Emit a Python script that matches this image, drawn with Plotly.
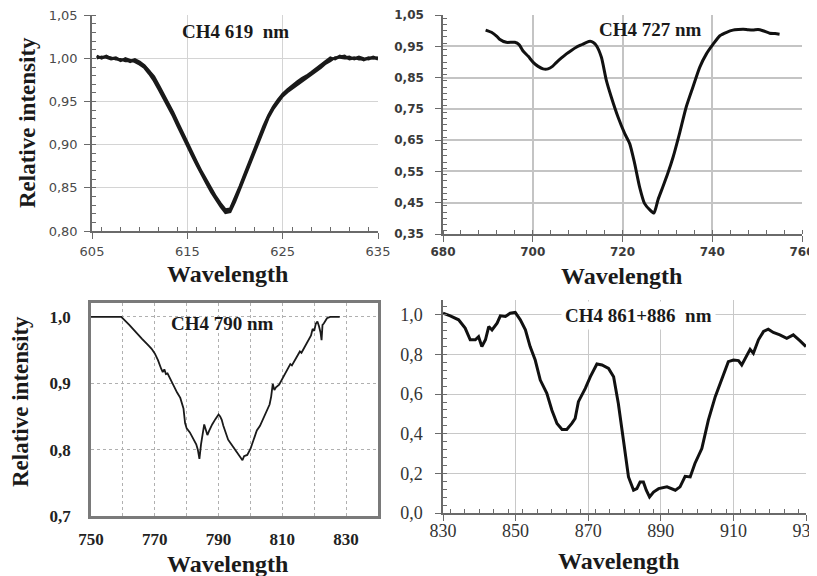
import plotly.graph_objects as go

# The page body has an 8px default margin, so the figure is drawn 8px smaller
# and every reference pixel position is shifted by that margin.
PAGE_W, PAGE_H = 817, 576
OFF = 8
W, H = PAGE_W - OFF, PAGE_H - OFF

# ---------------- data ----------------
# Panel A: CH4 619 nm (three overlapping spectra)
wl_619 = [605.5, 606, 606.5, 607, 607.5, 608, 608.5, 609, 609.5, 610, 610.5, 611, 611.5, 612, 612.5,
          613, 613.5, 614, 614.5, 615, 615.5, 616, 616.5, 617, 617.5, 618, 618.5, 619, 619.5, 620,
          620.5, 621, 621.5, 622, 622.5, 623, 623.5, 624, 624.5, 625, 625.5, 626, 626.5, 627, 627.5,
          628, 628.5, 629, 629.5, 630, 630.5, 631, 631.5, 632, 632.5, 633, 633.5, 634, 634.5, 635]
int_619_a = [1.002, 1.001, 1.003, 1.000, 1.001, 0.998, 0.999, 0.996, 0.998, 0.995, 0.991, 0.985, 0.977, 0.967, 0.957,
             0.947, 0.936, 0.924, 0.912, 0.900, 0.889, 0.878, 0.867, 0.857, 0.847, 0.838, 0.830, 0.823, 0.824, 0.836,
             0.850, 0.864, 0.878, 0.893, 0.907, 0.920, 0.933, 0.943, 0.951, 0.958, 0.963, 0.967, 0.971, 0.975, 0.978,
             0.982, 0.986, 0.991, 0.996, 0.999, 1.000, 1.003, 1.001, 1.002, 0.999, 1.001, 0.998, 1.000, 1.002, 1.000]
int_619_b = [1.000, 1.002, 1.001, 0.999, 1.000, 0.997, 1.000, 0.998, 0.996, 0.993, 0.989, 0.982, 0.974, 0.964, 0.954,
             0.944, 0.933, 0.921, 0.909, 0.898, 0.887, 0.876, 0.865, 0.855, 0.845, 0.836, 0.828, 0.821, 0.822, 0.834,
             0.848, 0.862, 0.876, 0.891, 0.905, 0.918, 0.931, 0.941, 0.949, 0.956, 0.961, 0.965, 0.968, 0.972, 0.976,
             0.980, 0.984, 0.989, 0.994, 0.997, 1.001, 1.001, 1.000, 1.000, 1.001, 0.999, 0.999, 1.001, 1.000, 1.001]
int_619_c = [1.003, 1.000, 1.002, 1.001, 0.999, 0.999, 0.997, 0.997, 0.999, 0.996, 0.992, 0.986, 0.979, 0.969, 0.959,
             0.949, 0.938, 0.926, 0.914, 0.902, 0.891, 0.880, 0.869, 0.859, 0.849, 0.840, 0.832, 0.825, 0.826, 0.838,
             0.852, 0.866, 0.880, 0.895, 0.909, 0.922, 0.934, 0.944, 0.952, 0.959, 0.964, 0.969, 0.973, 0.977, 0.980,
             0.984, 0.988, 0.993, 0.997, 1.001, 0.999, 1.002, 1.003, 0.999, 1.000, 1.002, 1.000, 0.999, 1.001, 0.999]

# Panel B: CH4 727 nm
wl_727 = [689.5, 690.8, 692.0, 692.6, 694.1, 696.0, 697.0, 697.8, 699.0, 700.1, 701.2, 702.3, 703.4, 704.4,
          705.3, 706.4, 707.5, 708.6, 709.7, 711.0, 712.0, 712.8, 713.5, 714.2, 715.3, 716.4, 717.5, 719.0,
          720.5, 721.6, 722.7, 723.8, 724.9, 726.1, 727.0, 727.9, 729.0, 730.1, 731.3, 732.7, 734.2, 735.7,
          737.2, 738.7, 740.2, 741.7, 743.2, 744.6, 745.8, 746.9, 748.0, 749.1, 750.2, 751.3, 752.8, 754.0, 755.0]
int_727 = [1.002, 0.995, 0.982, 0.973, 0.963, 0.963, 0.955, 0.936, 0.918, 0.899, 0.886, 0.878, 0.878, 0.886,
           0.899, 0.913, 0.926, 0.937, 0.947, 0.956, 0.963, 0.966, 0.962, 0.952, 0.915, 0.841, 0.788, 0.724,
           0.671, 0.639, 0.576, 0.501, 0.448, 0.427, 0.417, 0.459, 0.501, 0.544, 0.597, 0.671, 0.756, 0.820,
           0.883, 0.926, 0.957, 0.984, 0.995, 1.002, 1.004, 1.005, 1.003, 1.002, 1.004, 1.000, 0.992, 0.991, 0.989]

# Panel C: CH4 790 nm
wl_790 = [750, 759.5, 762, 764, 766, 768, 769, 770, 771, 772, 772.5, 773, 773.5, 774, 775, 776, 777, 778,
          778.5, 779, 779.5, 780, 781, 782, 783, 783.5, 784, 784.5, 785, 785.5, 786, 786.5, 787, 787.5, 788,
          789, 790, 790.5, 791, 791.5, 792, 792.5, 793, 794, 795, 796, 797, 797.5, 798, 799, 800, 801, 802,
          803, 804, 805, 806, 806.5, 807, 807.5, 808, 809, 810, 811, 812, 812.5, 813, 814, 815, 815.5, 816,
          817, 818, 819, 819.5, 820, 820.5, 821, 821.5, 822, 822.3, 822.6, 823, 824, 825, 828]
int_790 = [1.000, 1.000, 0.988, 0.977, 0.967, 0.957, 0.952, 0.945, 0.935, 0.922, 0.917, 0.921, 0.914, 0.915,
           0.905, 0.895, 0.886, 0.878, 0.870, 0.862, 0.840, 0.832, 0.826, 0.818, 0.808, 0.800, 0.786, 0.808,
           0.826, 0.838, 0.830, 0.822, 0.828, 0.834, 0.838, 0.846, 0.853, 0.850, 0.845, 0.836, 0.828, 0.822,
           0.815, 0.808, 0.801, 0.795, 0.789, 0.784, 0.790, 0.792, 0.801, 0.816, 0.829, 0.836, 0.847, 0.857,
           0.868, 0.880, 0.899, 0.890, 0.894, 0.898, 0.907, 0.915, 0.924, 0.929, 0.927, 0.935, 0.943, 0.948,
           0.946, 0.955, 0.963, 0.972, 0.982, 0.979, 0.990, 0.993, 0.986, 0.976, 0.965, 0.988, 0.990, 0.998,
           1.000, 1.000]

# Panel D: CH4 861+886 nm
wl_861 = [830, 832, 834.3, 836.1, 837.5, 838.9, 839.8, 840.7, 841.7, 842.6, 843.5, 844.9, 845.8, 847.2, 848.5,
          849.9, 851.3, 852.7, 854, 855.4, 856.8, 858.6, 860, 861.4, 862.8, 864.1, 865.5, 866.4, 867.3, 869.2,
          870.6, 872.4, 873.8, 875.6, 877, 878.3, 879.7, 881.1, 882.5, 883.4, 884.3, 885.2, 886, 886.9, 888,
          889.4, 891.7, 893, 894, 895.3, 896.7, 898.1, 899.4, 901.3, 903.1, 905, 906.8, 908.6, 910, 911.4,
          912.3, 913.7, 914.6, 915.5, 916.9, 918.3, 919.6, 921, 922.8, 924.7, 926.5, 928.3, 930]
int_861 = [1.008, 0.995, 0.975, 0.933, 0.874, 0.874, 0.890, 0.840, 0.874, 0.941, 0.924, 0.958, 0.995, 0.992,
           1.008, 1.012, 0.975, 0.924, 0.840, 0.772, 0.671, 0.604, 0.519, 0.452, 0.422, 0.422, 0.452, 0.477,
           0.562, 0.629, 0.688, 0.752, 0.747, 0.730, 0.688, 0.553, 0.368, 0.182, 0.115, 0.123, 0.157, 0.157,
           0.115, 0.081, 0.106, 0.123, 0.132, 0.123, 0.115, 0.132, 0.185, 0.182, 0.250, 0.325, 0.469, 0.587,
           0.671, 0.764, 0.772, 0.769, 0.747, 0.798, 0.826, 0.806, 0.874, 0.916, 0.928, 0.911, 0.899, 0.882,
           0.899, 0.870, 0.840]

panel_titles = ["CH4 619  nm", "CH4 727 nm", "CH4 790 nm", "CH4 861+886  nm"]
x_title = "Wavelength"
y_title = "Relative intensity"

# ---------------- figure ----------------
SERIF = "Liberation Serif"
SANS = "DejaVu Sans"

fig = go.Figure()
for ys in (int_619_a, int_619_b, int_619_c):
    fig.add_trace(go.Scatter(x=wl_619, y=ys, mode="lines", xaxis="x", yaxis="y",
                             line=dict(color="#1a1a1a", width=2.4), showlegend=False))
fig.add_trace(go.Scatter(x=wl_727, y=int_727, mode="lines", xaxis="x2", yaxis="y2",
                         line=dict(color="#111", width=3, shape="spline", smoothing=0.6), showlegend=False))
fig.add_trace(go.Scatter(x=wl_790, y=int_790, mode="lines", xaxis="x3", yaxis="y3",
                         line=dict(color="#1a1a1a", width=1.8), showlegend=False))
fig.add_trace(go.Scatter(x=wl_861, y=int_861, mode="lines", xaxis="x4", yaxis="y4",
                         line=dict(color="#111", width=3), showlegend=False))


def dx(p):
    return (p - OFF) / W


def dy(p):
    return 1 - (p - OFF) / H


def excel_axis(domain, rng, dtick, tick0, fmt, minor_dtick, font, anchor,
               gridcolor="#d4d4d4", gridwidth=1, standoff=0):
    return dict(domain=domain, range=rng, dtick=dtick, tick0=tick0, tickformat=fmt,
                showline=True, linecolor="#6a6a6a", linewidth=1.5, automargin=False,
                ticks="outside", ticklen=6, tickcolor="#6a6a6a", tickwidth=1.2,
                showgrid=True, gridcolor=gridcolor, gridwidth=gridwidth, zeroline=False,
                tickfont=font, anchor=anchor, ticklabeloverflow="allow",
                ticklabelstandoff=standoff,
                minor=dict(dtick=minor_dtick, ticks="inside", ticklen=4, tickcolor="#6a6a6a",
                           showgrid=False))


fontA = dict(family=SANS, size=13, color="#4a4a4a")
fontB = dict(family=SANS, size=12, color="#3a3a3a", weight="bold")
fontC = dict(family=SERIF, size=17, color="#222", weight="bold")
fontD = dict(family=SERIF, size=18, color="#333")

layout = dict(
    width=W, height=H, margin=dict(l=0, r=0, t=0, b=0, autoexpand=False),
    paper_bgcolor="white", plot_bgcolor="white", separators=", ",
    showlegend=False,
    xaxis=excel_axis([dx(92), dx(378)], [605, 635], 10, 605, "d", 2, fontA, "y", standoff=2),
    yaxis=excel_axis([dy(231), dy(15)], [0.8, 1.0503], 0.05, 0.8, ".2f", 0.01, fontA, "x", standoff=4),
    xaxis2=excel_axis([dx(443), dx(802)], [680, 760], 20, 680, "d", 4, fontB, "y2",
                      gridcolor="#c4c4c4", gridwidth=1.5),
    yaxis2=excel_axis([dy(234), dy(15)], [0.35, 1.0503], 0.1, 0.35, ".2f", 0.02, fontB, "x2",
                      gridcolor="#c4c4c4", gridwidth=1.5, standoff=9),
    xaxis3=dict(domain=[dx(91), dx(378)], range=[750, 840], dtick=20, tick0=750, tickformat="d",
                showline=True, mirror=True, linecolor="#7a7a7a", linewidth=2.5, ticks="",
                showgrid=True, gridcolor="#b0b0b0", griddash="dot", gridwidth=1, zeroline=False,
                tickfont=fontC, anchor="y3", automargin=False, ticklabelstandoff=6,
                ticklabeloverflow="allow",
                minor=dict(dtick=10, showgrid=True, gridcolor="#b0b0b0", griddash="dot", gridwidth=1)),
    yaxis3=dict(domain=[dy(516), dy(303)], range=[0.7, 1.021], dtick=0.1, tick0=0.7, tickformat=".1f",
                showline=True, mirror=True, linecolor="#7a7a7a", linewidth=2.5, ticks="",
                showgrid=True, gridcolor="#b0b0b0", griddash="dot", gridwidth=1, zeroline=False,
                tickfont=fontC, anchor="x3", automargin=False, ticklabelstandoff=14,
                ticklabeloverflow="allow"),
    xaxis4=excel_axis([dx(443), dx(806)], [830, 930], 20, 830, "d", 4, fontD, "y4",
                      gridcolor="#c8c8c8", gridwidth=1.2, standoff=-5),
    yaxis4=excel_axis([dy(513), dy(300)], [0, 1.075], 0.2, 0, ".1f", 0.04, fontD, "x4",
                      gridcolor="#c8c8c8", gridwidth=1.2, standoff=9),
)
fig.update_layout(**layout)

ann = []
title_font = dict(family=SERIF, size=19, color="#1a1a1a")
for (txt, cx, cy, bg) in [(panel_titles[0], 235, 32, None), (panel_titles[1], 650, 29, None),
                          (panel_titles[2], 222, 323, None), (panel_titles[3], 638, 315, "white")]:
    a = dict(text="<b>%s</b>" % txt, x=dx(cx), y=dy(cy), xref="paper", yref="paper",
             showarrow=False, font=title_font, xanchor="center", yanchor="middle")
    if bg:
        a["bgcolor"] = bg
        a["borderpad"] = 3
    ann.append(a)

axis_title_font = dict(family=SERIF, size=24, color="#1a1a1a")
for (cx, cy) in [(227, 274), (621, 276), (227, 564), (618, 561)]:
    ann.append(dict(text="<b>%s</b>" % x_title, x=dx(cx), y=dy(cy), xref="paper", yref="paper",
                    showarrow=False, font=axis_title_font, xanchor="center", yanchor="middle"))
ytitle_font = dict(family=SERIF, size=23, color="#1a1a1a")
for (cx, cy) in [(27, 123), (20, 402)]:
    ann.append(dict(text="<b>%s</b>" % y_title, x=dx(cx), y=dy(cy), xref="paper", yref="paper",
                    showarrow=False, font=ytitle_font, textangle=-90,
                    xanchor="center", yanchor="middle"))
fig.update_layout(annotations=ann)

fig.write_html("out.html")
